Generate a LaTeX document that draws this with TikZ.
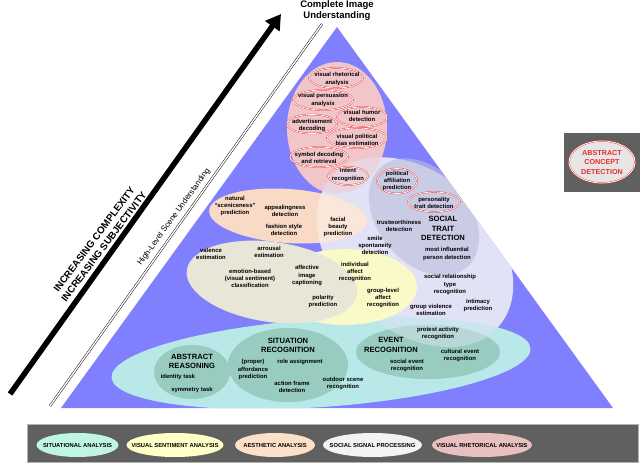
\documentclass[tikz,border=0pt]{standalone}
\usepackage{fontspec}
\setmainfont{Liberation Sans}
\usetikzlibrary{arrows.meta,shapes.geometric}
\definecolor{triblue}{RGB}{128,128,255}
\definecolor{pinkR}{RGB}{240,198,202}
\definecolor{lav}{RGB}{226,226,246}
\definecolor{soc}{RGB}{186,190,218}
\definecolor{peach}{RGB}{248,218,198}
\definecolor{yel}{RGB}{250,250,200}
\definecolor{beige}{RGB}{232,230,214}
\definecolor{cyanS}{RGB}{184,232,232}
\definecolor{tealS}{RGB}{152,204,192}
\definecolor{barGray}{RGB}{96,96,96}
\definecolor{redL}{RGB}{235,45,45}
\definecolor{mintB}{RGB}{192,245,226}
\definecolor{yelB}{RGB}{255,255,200}
\definecolor{peachB}{RGB}{252,224,200}
\definecolor{whiteB}{RGB}{243,243,243}
\definecolor{pinkB}{RGB}{232,192,192}
\definecolor{grayE}{RGB}{230,230,230}
\colorlet{mixPL}{pinkR!50!lav}
\colorlet{mixCL}{cyanS!55!lav}
\colorlet{mixTL}{tealS!55!lav}
\colorlet{mixOL}{peach!65!white}
\tikzset{
 lbl/.style={font=\fontsize{5.9}{7.1}\selectfont\bfseries, align=center, inner sep=0pt},
 capl/.style={font=\fontsize{7.6}{9.2}\selectfont\bfseries, align=center, inner sep=0pt},
 barl/.style={font=\fontsize{5.8}{7}\selectfont\bfseries, inner sep=0pt},
 redell/.style={draw=redL, double=white, double distance=0.75pt, line width=0.35pt},
}
\newcommand{\lavE}{(415,252) ellipse [x radius=112, y radius=78, rotate=-42]}
\newcommand{\orE}{(288,216) ellipse [x radius=79, y radius=27, rotate=-4]}
\newcommand{\pinkE}{(337,128) ellipse [x radius=50, y radius=66]}
\newcommand{\cyE}{(321,363) ellipse [x radius=210, y radius=44, rotate=4]}
\newcommand{\evE}{(428,352) ellipse [x radius=72, y radius=27]}
\begin{document}
\begin{tikzpicture}[x=1pt,y=-1pt]
\useasboundingbox (0,0) rectangle (640,463);
% arrow and double line
\coordinate (arrS) at (10,394);
\coordinate (arrE) at (281,14);
\draw[line width=5.5pt, -{Triangle[length=15pt,width=17pt]}] (arrS) -- (arrE);
\node[font=\fontsize{9.8}{12}\selectfont\bfseries, align=center, rotate=53, inner sep=0pt] (incr) at (99,243) {INCREASING COMPLEXITY\\INCREASING SUBJECTIVITY};
\coordinate (dlS) at (50,406);
\coordinate (dlE) at (322,24);
\draw[double=white, double distance=1.4pt, line width=0.45pt] (dlS) -- (dlE);
\node[font=\fontsize{8}{9}\selectfont, rotate=54, inner sep=0pt] (hlsu) at (174,217) {High-Level Scene Understanding};
\node[font=\fontsize{9.5}{11}\selectfont\bfseries, align=center, inner sep=0pt] (ciu) at (337,10.5) {Complete Image\\Understanding};
% triangle
\coordinate (apex) at (337,27);
\coordinate (bl) at (61,408);
\coordinate (br) at (613,408);
\fill[triblue] (apex) -- (br) -- (bl) -- cycle;
\begin{scope}
\clip (apex) -- (br) -- (bl) -- cycle;
\fill[cyanS] \cyE;
\fill[tealS] (192,372) ellipse [x radius=38, y radius=27];
\fill[tealS] (288,365) ellipse [x radius=60, y radius=37];
\fill[tealS] \evE;
\fill[pinkR] \pinkE;
\fill[lav] \lavE;
\begin{scope}
\clip \lavE;
\fill[mixPL] \pinkE;
\fill[mixCL] \cyE;
\fill[mixTL] \evE;
\end{scope}
\fill[soc, opacity=0.6] (424,217) ellipse [x radius=66, y radius=46, rotate=-50];
\fill[yel] (345,287) ellipse [x radius=72, y radius=38];
\fill[beige] (272,282) ellipse [x radius=86, y radius=40, rotate=-8];
\fill[peach] \orE;
\begin{scope}
\clip \orE;
\fill[mixOL] \lavE;
\end{scope}
\end{scope}
% red double ellipses
\draw[redell] (336,78) ellipse [x radius=27, y radius=10];
\draw[redell] (323,100) ellipse [x radius=30, y radius=10];
\draw[redell] (362,117) ellipse [x radius=25, y radius=10];
\draw[redell] (312,124) ellipse [x radius=25, y radius=9.5];
\draw[redell] (357,138) ellipse [x radius=30, y radius=10];
\draw[redell] (319,157) ellipse [x radius=29, y radius=10];
\draw[redell] (348,176) ellipse [x radius=20, y radius=9];
\draw[redell] (397,181) ellipse [x radius=20, y radius=12.5];
\draw[redell] (434,202) ellipse [x radius=26, y radius=10];
% rhetorical labels
\node[lbl] (vra) at (337,79) {visual rhetorical\\analysis};
\node[lbl] (vpa) at (323,100) {visual persuasion\\analysis};
\node[lbl] (vhd) at (362,116) {visual humor\\detection};
\node[lbl] (adv) at (312,125.5) {advertisement\\decoding};
\node[lbl] (vpb) at (357,139.5) {visual political\\bias estimation};
\node[lbl] (sdr) at (319,158) {symbol decoding\\and retrieval};
\node[lbl] (irc) at (348,175) {intent\\recognition};
\node[lbl] (pap) at (397,181) {political\\affiliation\\prediction};
\node[lbl] (ptd) at (434,202.5) {personality\\trait detection};
% aesthetic labels
\node[lbl] (nsp) at (235,206) {natural\\``sceniceness''\\prediction};
\node[lbl] (apd) at (285,210.5) {appealingness\\detection};
\node[lbl] (fsd) at (284,229.5) {fashion style\\detection};
\node[lbl] (fbp) at (338,227) {facial\\beauty\\prediction};
% sentiment labels
\node[lbl] (ves) at (211,253.5) {valence\\estimation};
\node[lbl] (aes) at (269,252) {arrousal\\estimation};
\node[lbl] (ebc) at (250,278.5) {emotion-based\\(visual sentiment)\\classification};
\node[lbl] (aic) at (307,275.5) {affective\\image\\captioning};
\node[lbl] (ppr) at (323,301.5) {polarity\\prediction};
\node[lbl] (iar) at (355,272) {individual\\affect\\recognition};
\node[lbl] (gar) at (383,298) {group-level\\affect\\recognition};
% social labels
\node[lbl] (ssd) at (375,245) {smile\\spontaneity\\detection};
\node[lbl] (twd) at (399,226) {trustworthiness\\detection};
\node[capl] (std) at (443,228.5) {SOCIAL\\TRAIT\\DETECTION};
\node[lbl] (mip) at (447,254) {most influential\\person detection};
\node[lbl] (srt) at (450,284.5) {social relationship\\type\\recognition};
\node[lbl] (inp) at (478,305.5) {intimacy\\prediction};
\node[lbl] (gve) at (431,309.5) {group violence\\estimation};
% situational labels
\node[capl] (abr) at (192,361.5) {ABSTRACT\\REASONING};
\node[lbl] (idt) at (178,377) {identity task};
\node[lbl] (smt) at (192,390) {symmetry task};
\node[capl] (sir) at (288,345.5) {SITUATION\\RECOGNITION};
\node[lbl] (paf) at (253,369.5) {(proper)\\affordance\\prediction};
\node[lbl] (ras) at (300,362) {role assignment};
\node[lbl] (afd) at (292,386.5) {action frame\\detection};
\node[lbl] (osr) at (343,383.5) {outdoor scene\\recognition};
\node[capl] (evr) at (391,345) {EVENT\\RECOGNITION};
\node[lbl] (par) at (438,333.5) {protest activity\\recognition};
\node[lbl] (cer) at (460,355.5) {cultural event\\recognition};
\node[lbl] (ser) at (407,365.5) {social event\\recognition};
% abstract concept box
\fill[barGray] (564,133) rectangle (640,192);
\fill[grayE] (602,162) ellipse [x radius=33, y radius=21];
\draw[redell] (602,162) ellipse [x radius=33, y radius=21];
\node[font=\fontsize{7.2}{9.2}\selectfont\bfseries, text=redL, align=center, inner sep=0pt] (acd) at (602,162.5) {ABSTRACT\\CONCEPT\\DETECTION};
% legend bar
\fill[barGray] (27,424) rectangle (638,462);
\draw[black!30, line width=0.5pt] (27,424) rectangle (638,462);
\fill[mintB] (77.5,445) ellipse [x radius=41, y radius=12];
\node[barl] (lg1) at (77.5,445) {SITUATIONAL ANALYSIS};
\fill[yelB] (175,445) ellipse [x radius=48.5, y radius=12];
\node[barl] (lg2) at (175,445) {VISUAL SENTIMENT ANALYSIS};
\fill[peachB] (275,445) ellipse [x radius=40, y radius=12];
\node[barl] (lg3) at (275,445) {AESTHETIC ANALYSIS};
\fill[whiteB] (372.5,445) ellipse [x radius=49.5, y radius=12];
\node[barl] (lg4) at (372.5,445) {SOCIAL SIGNAL PROCESSING};
\fill[pinkB] (482,445) ellipse [x radius=50, y radius=12];
\node[barl] (lg5) at (482,445) {VISUAL RHETORICAL ANALYSIS};
\end{tikzpicture}
\end{document}
